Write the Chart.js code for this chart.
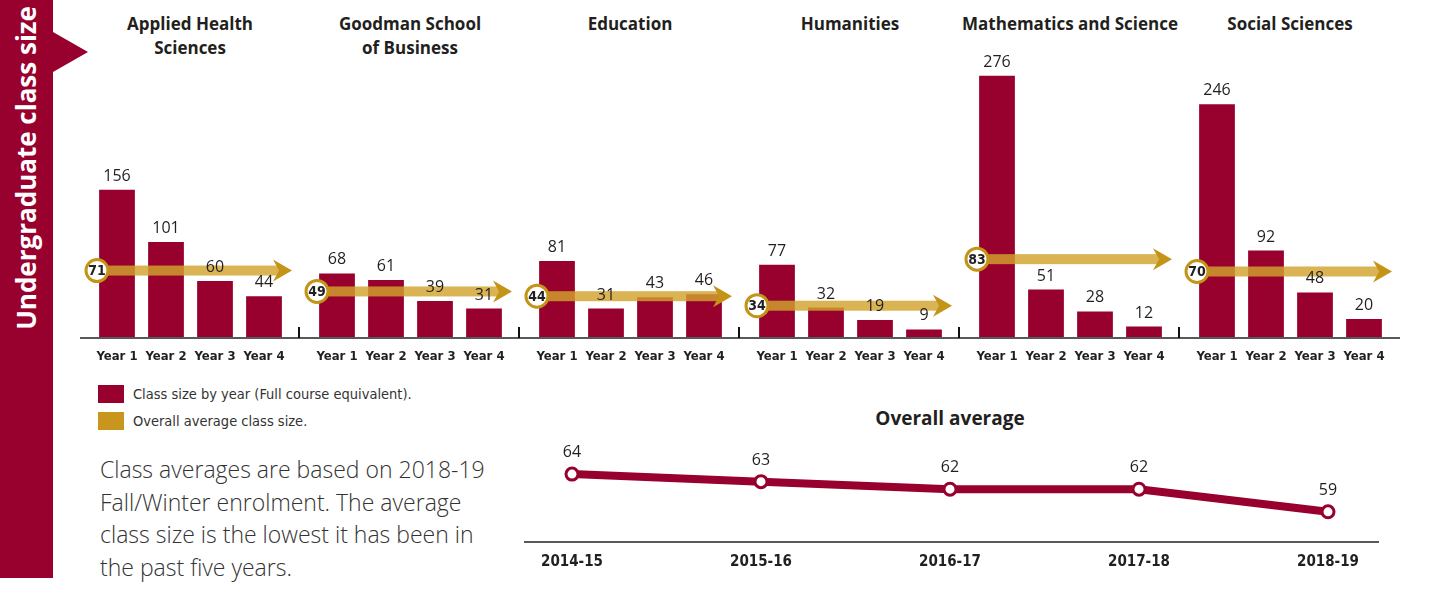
<!DOCTYPE html>
<html>
<head>
<meta charset="utf-8">
<script src="https://cdn.jsdelivr.net/npm/chart.js@4.4.1/dist/chart.umd.min.js"></script>
<style>
body { margin:0; width:1438px; height:592px; position:relative; background:#fff; overflow:hidden; font-family:'Open Sans', sans-serif; color:#231f20; }
#banner { position:absolute; left:0; top:0; width:53px; height:578px; background:#98002e; }
#pointer { position:absolute; left:53px; top:32px; width:0; height:0; border-top:20px solid transparent; border-bottom:20px solid transparent; border-left:35px solid #98002e; }
#bannerText { position:absolute; left:0; top:336px; width:336px; height:53px; line-height:53px; transform-origin:left top; transform:rotate(-90deg); color:#fff; font-weight:700; font-size:26px; text-align:center; white-space:nowrap; }
.gtitle { position:absolute; top:12px; width:220px; text-align:center; font-weight:700; font-size:17px; line-height:24px; }
.grp { position:absolute; top:0; }
.key { position:absolute; left:98px; width:26px; height:18px; }
.keytxt { position:absolute; left:133px; font-family:'Liberation Sans Narrow','DejaVu Sans Condensed',sans-serif; font-size:14.5px; line-height:18px; color:#333; }
#note { position:absolute; left:100px; top:453px; font-size:23px; font-weight:300; line-height:32.7px; color:#333; }
#lineTitle { position:absolute; left:700px; width:500px; top:405px; text-align:center; font-weight:700; font-size:19px; }
#lineBox { position:absolute; left:500px; top:395px; }
</style>
</head>
<body>
<div id="banner"></div>
<div id="pointer"></div>
<div id="bannerText">Undergraduate class size</div>

<div class="key" style="top:385px;background:#98002e"></div>
<div class="keytxt" style="top:385px">Class size by year (Full course equivalent).</div>
<div class="key" style="top:412px;background:#c8961c"></div>
<div class="keytxt" style="top:412px">Overall average class size.</div>

<div id="note">Class averages are based on 2018-19<br>Fall/Winter enrolment. The average<br>class size is the lowest it has been in<br>the past five years.</div>

<div id="lineTitle">Overall average</div>
<div id="lineBox"><canvas id="lineChart" width="900" height="197"></canvas></div>

<script>
const groupNames = [
  ['Applied Health', 'Sciences'],
  ['Goodman School', 'of Business'],
  ['Education'],
  ['Humanities'],
  ['Mathematics and Science'],
  ['Social Sciences']
];
const yearLabels = ['Year 1', 'Year 2', 'Year 3', 'Year 4'];
const appliedHealth = [156, 101, 60, 44];
const goodman = [68, 61, 39, 31];
const education = [81, 31, 43, 46];
const humanities = [77, 32, 19, 9];
const mathScience = [276, 51, 28, 12];
const socialSciences = [246, 92, 48, 20];
const groupAverages = [71, 49, 44, 34, 83, 70];

const seasons = ['2014-15', '2015-16', '2016-17', '2017-18', '2018-19'];
const overallAverage = [64, 63, 62, 62, 59];

const RED = '#98002e';
const GOLD = '#c8961c';
const narrow = "'Liberation Sans Narrow','DejaVu Sans Condensed',sans-serif";

const groupValues = [appliedHealth, goodman, education, humanities, mathScience, socialSciences];

// baseline, separator tick, average arrow and value labels
const groupDecor = {
  id: 'groupDecor',
  afterDatasetsDraw(chart, args, opts) {
    const ctx = chart.ctx;
    const y = chart.scales.y;
    const yb = y.getPixelForValue(0);
    ctx.save();
    ctx.strokeStyle = '#58595b';
    ctx.lineWidth = 2;
    ctx.beginPath(); ctx.moveTo(0, yb); ctx.lineTo(chart.width, yb); ctx.stroke();
    if (opts.sep) {
      ctx.strokeStyle = '#111';
      ctx.lineWidth = 2;
      ctx.beginPath(); ctx.moveTo(chart.width - 1, yb - 11); ctx.lineTo(chart.width - 1, yb); ctx.stroke();
    }
    // average arrow
    const ya = y.getPixelForValue(opts.avg);
    const cx = 17, tip = 212;
    ctx.fillStyle = 'rgba(210,163,45,0.82)';
    ctx.fillRect(cx, ya - 5, tip - 12 - cx, 10);
    ctx.fillStyle = '#c49419';
    ctx.beginPath();
    ctx.moveTo(tip, ya);
    ctx.lineTo(tip - 19, ya - 11);
    ctx.lineTo(tip - 13, ya);
    ctx.lineTo(tip - 19, ya + 11);
    ctx.closePath();
    ctx.fill();
    ctx.beginPath();
    ctx.arc(cx, ya, 11, 0, Math.PI * 2);
    ctx.fillStyle = '#fff'; ctx.fill();
    ctx.lineWidth = 3; ctx.strokeStyle = '#c49419'; ctx.stroke();
    ctx.fillStyle = '#231f20';
    ctx.font = 'bold 14px ' + narrow;
    ctx.textAlign = 'center'; ctx.textBaseline = 'middle';
    ctx.fillText(opts.avg, cx, ya + 1);
    // bar values
    const meta = chart.getDatasetMeta(0);
    ctx.font = '16px "Open Sans", sans-serif';
    ctx.textBaseline = 'alphabetic';
    meta.data.forEach((bar, i) => {
      ctx.fillText(chart.data.datasets[0].data[i], bar.x, bar.y - 9);
    });
    ctx.restore();
  }
};

groupNames.forEach((name, g) => {
  const left = 80 + 220 * g;
  const t = document.createElement('div');
  t.className = 'gtitle';
  t.style.left = left + 'px';
  t.innerHTML = name.join('<br>');
  document.body.appendChild(t);

  const box = document.createElement('div');
  box.className = 'grp';
  box.style.left = left + 'px';
  const cv = document.createElement('canvas');
  cv.width = 220; cv.height = 372;
  box.appendChild(cv);
  document.body.appendChild(box);

  new Chart(cv, {
    type: 'bar',
    data: {
      labels: yearLabels,
      datasets: [{
        data: groupValues[g],
        backgroundColor: RED,
        barPercentage: 0.73,
        categoryPercentage: 1
      }]
    },
    options: {
      responsive: false,
      animation: false,
      layout: { padding: { top: 53, left: 12.5, right: 11.5, bottom: 0 } },
      plugins: {
        legend: { display: false },
        tooltip: { enabled: false },
        groupDecor: { avg: groupAverages[g], sep: g < 5 }
      },
      scales: {
        x: {
          grid: { display: false, drawTicks: false },
          border: { display: false },
          ticks: { color: '#231f20', padding: 11, maxRotation: 0, minRotation: 0, autoSkip: false,
                   font: { family: narrow, size: 13, weight: 'bold' } },
          afterFit(s) { s.height = 34; s.paddingLeft = 0; s.paddingRight = 0; }
        },
        y: { display: false, min: 0, max: 300 }
      }
    },
    plugins: [groupDecor]
  });
});

const lineDecor = {
  id: 'lineDecor',
  beforeDatasetsDraw(chart) {
    const ctx = chart.ctx;
    const yb = chart.scales.y.getPixelForValue(55);
    ctx.save();
    ctx.strokeStyle = '#58595b';
    ctx.lineWidth = 2;
    ctx.beginPath(); ctx.moveTo(24, yb); ctx.lineTo(879, yb); ctx.stroke();
    ctx.restore();
  },
  afterDatasetsDraw(chart) {
    const ctx = chart.ctx;
    const meta = chart.getDatasetMeta(0);
    ctx.save();
    ctx.fillStyle = '#231f20';
    ctx.font = '16px "Open Sans", sans-serif';
    ctx.textAlign = 'center';
    meta.data.forEach((pt, i) => {
      ctx.fillText(chart.data.datasets[0].data[i], pt.x, pt.y - 17);
    });
    ctx.restore();
  }
};

new Chart(document.getElementById('lineChart'), {
  type: 'line',
  data: {
    labels: seasons,
    datasets: [{
      data: overallAverage,
      borderColor: RED,
      borderWidth: 8,
      tension: 0,
      pointRadius: 6,
      pointBorderWidth: 3,
      pointBackgroundColor: '#fff',
      pointBorderColor: RED,
      clip: false
    }]
  },
  options: {
    responsive: false,
    animation: false,
    layout: { padding: { top: 64, left: 72, right: 72, bottom: 0 } },
    plugins: { legend: { display: false }, tooltip: { enabled: false } },
    scales: {
      x: {
        offset: false,
        grid: { display: false, drawTicks: false },
        border: { display: false },
        ticks: { color: '#231f20', padding: 11, maxRotation: 0, autoSkip: false,
                 font: { family: narrow, size: 15, weight: 'bold' } },
        afterFit(s) { s.height = 50; s.paddingLeft = 0; s.paddingRight = 0; }
      },
      y: { display: false, min: 55, max: 66 }
    }
  },
  plugins: [lineDecor]
});
</script>
</body>
</html>
